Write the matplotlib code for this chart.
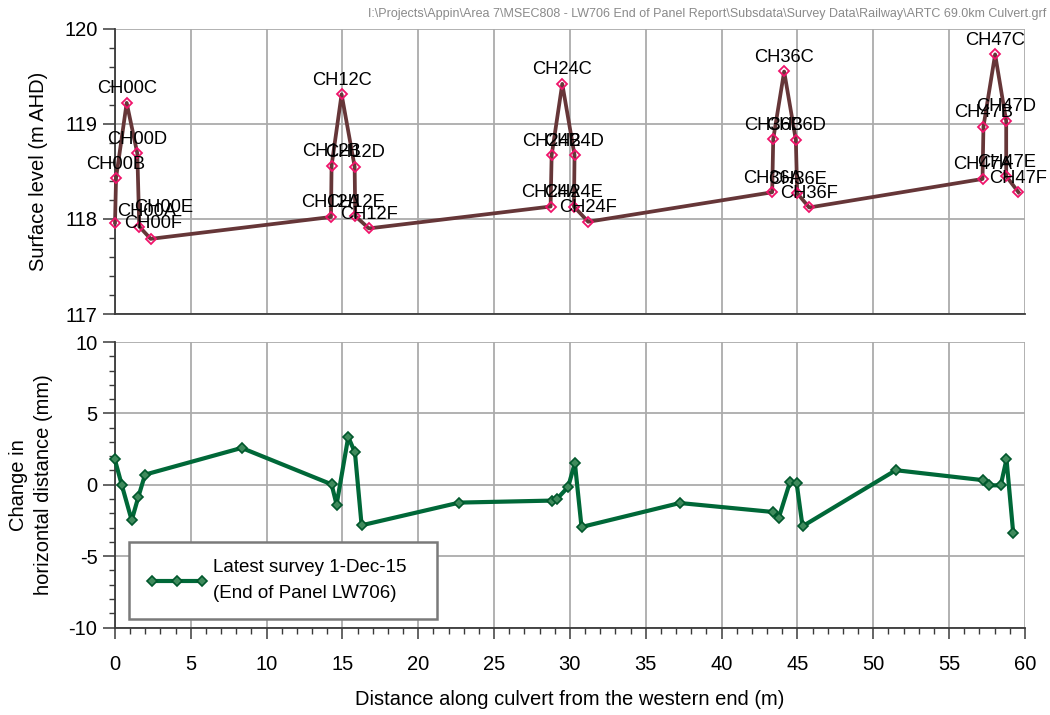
import matplotlib
matplotlib.use("Agg")
import matplotlib.pyplot as plt
from matplotlib.ticker import MultipleLocator

plt.rcParams['font.family'] = ['Liberation Sans', 'DejaVu Sans']
plt.rcParams['axes.unicode_minus'] = False

# Surveyed surface levels at the culvert marks
mark_names = ["CH00A", "CH00B", "CH00C", "CH00D", "CH00E", "CH00F",
              "CH12A", "CH12B", "CH12C", "CH12D", "CH12E", "CH12F",
              "CH24A", "CH24B", "CH24C", "CH24D", "CH24E", "CH24F",
              "CH36A", "CH36B", "CH36C", "CH36D", "CH36E", "CH36F",
              "CH47A", "CH47B", "CH47C", "CH47D", "CH47E", "CH47F"]
mark_dist = [0.01, 0.08, 0.78, 1.48, 1.61, 2.36,
             14.25, 14.29, 14.95, 15.81, 15.85, 16.75,
             28.73, 28.80, 29.50, 30.31, 30.27, 31.21,
             43.34, 43.41, 44.13, 44.90, 44.99, 45.78,
             57.21, 57.27, 58.04, 58.77, 58.77, 59.58]
mark_level = [117.96, 118.43, 119.22, 118.69, 117.92, 117.79,
              118.02, 118.56, 119.31, 118.55, 118.03, 117.90,
              118.13, 118.67, 119.42, 118.67, 118.13, 117.97,
              118.28, 118.84, 119.55, 118.83, 118.27, 118.12,
              118.42, 118.97, 119.73, 119.03, 118.45, 118.28]

# Change in horizontal distance between marks, latest survey
bay_dist = [0.0, 0.45, 1.11, 1.55, 1.99, 8.36, 14.29, 14.62, 15.39, 15.83,
            16.27, 22.71, 28.80, 29.17, 29.89, 30.33, 30.77, 37.25, 43.41,
            43.78, 44.51, 44.95, 45.34, 51.49, 57.25, 57.65, 58.41, 58.79,
            59.23]
bay_change = [1.77, 0.01, -2.49, -0.85, 0.71, 2.58, 0.03, -1.39, 3.35, 2.26,
              -2.84, -1.25, -1.11, -0.97, -0.15, 1.53, -2.96, -1.28, -1.91,
              -2.30, 0.18, 0.13, -2.91, 1.02, 0.32, -0.04, -0.04, 1.79,
              -3.35]

x_ticks = [0, 5, 10, 15, 20, 25, 30, 35, 40, 45, 50, 55, 60]
level_ticks = [117, 118, 119, 120]
change_ticks = [-10, -5, 0, 5, 10]
change_tick_labels = ["-10", "-5", "0", "5", "10"]
legend_label = "Latest survey 1-Dec-15\n(End of Panel LW706)"
file_path = (r"I:\Projects\Appin\Area 7\MSEC808 - LW706 End of Panel Report"
             r"\Subsdata\Survey Data\Railway\ARTC 69.0km Culvert.grf")

W, H = 1050, 715
fig = plt.figure(figsize=(W / 100, H / 100), dpi=100)

left = 114.85 / W
width = 910 / W
ax1 = fig.add_axes([left, (H - 314) / H, width, 285.3 / H])
ax2 = fig.add_axes([left, (H - 627.5) / H, width, 285.5 / H])

grid_col = "#ababab"
spine_col = "#3a3a3a"

for ax in (ax1, ax2):
    ax.set_xlim(0, 60)
    ax.xaxis.set_major_locator(MultipleLocator(5))
    ax.xaxis.set_minor_locator(MultipleLocator(1))
    ax.grid(True, which="major", color=grid_col, linewidth=1.3, zorder=0)
    ax.spines["top"].set_visible(False)
    ax.spines["right"].set_visible(False)
    for s in ("left", "bottom"):
        ax.spines[s].set_color(spine_col)
        ax.spines[s].set_linewidth(1.3)
        ax.spines[s].set_zorder(1)
    ax.tick_params(axis="y", which="major", direction="out", length=8.5,
                   width=1.1, color=spine_col, labelsize=14.5, pad=4)
    ax.tick_params(axis="y", which="minor", direction="out", length=4.3,
                   width=1.0, color=spine_col)
    ax.set_axisbelow(True)

# Upper panel: surface levels
ax1.set_ylim(117, 120)
ax1.set_yticks(level_ticks)
ax1.yaxis.set_minor_locator(MultipleLocator(0.2))
ax1.tick_params(axis="x", which="both", length=0, labelbottom=False)
ax1.plot(mark_dist, mark_level, color="#663638", linewidth=2.7,
         marker="D", markersize=5.5, markerfacecolor="none",
         markeredgecolor="#f0136a", markeredgewidth=1.3, clip_on=False,
         zorder=3)

label_shift = {"CH00A": (32, 11), "CH00E": (24, 19), "CH00F": (3, 15)}
for name, xv, yv in zip(mark_names, mark_dist, mark_level):
    dx, dy = label_shift.get(name, (0, 14))
    ax1.annotate(name, (xv, yv), xytext=(dx, dy), textcoords="offset pixels",
                 ha="center", va="center", fontsize=13.2, color="black",
                 annotation_clip=False, zorder=4)

ax1.set_ylabel("Surface level (m AHD)", fontsize=14.5)
ax1.yaxis.label.set_va("center")
ax1.yaxis.set_label_coords((38 - 114.85) / 910, 0.5)

# Lower panel: change in horizontal distance
ax2.set_ylim(-10, 10)
ax2.set_yticks(change_ticks)
ax2.set_yticklabels(change_tick_labels)
ax2.yaxis.set_minor_locator(MultipleLocator(1))
ax2.set_xticks(x_ticks)
ax2.set_xticklabels([str(v) for v in x_ticks])
ax2.tick_params(axis="x", which="major", direction="out", length=8,
                width=1.1, color=spine_col, labelsize=14.5, pad=12)
ax2.tick_params(axis="x", which="minor", direction="out", length=4.3,
                width=1.0, color=spine_col)
ax2.plot(bay_dist, bay_change, color="#006838", linewidth=3.0,
         marker="D", markersize=5.5, markerfacecolor="#3f8a5c",
         markeredgecolor="#00582c", markeredgewidth=1.2, clip_on=False,
         zorder=3, label=legend_label)

ax2.set_ylabel("Change in\nhorizontal distance (mm)", fontsize=14.5,
               linespacing=1.4)
ax2.yaxis.label.set_va("center")
ax2.yaxis.set_label_coords((31 - 114.85) / 910, 0.5)
ax2.set_xlabel("Distance along culvert from the western end (m)",
               fontsize=14.5, labelpad=11)

leg = ax2.legend(loc="lower left",
                 bbox_to_anchor=((129 - 114.85) / 910, (627.5 - 619) / 285.5,
                                 (437 - 129) / 910, (619 - 538) / 285.5),
                 mode="expand", borderaxespad=0, fontsize=13.5,
                 handlelength=3.3, handletextpad=0.3, numpoints=3,
                 fancybox=False, framealpha=1, borderpad=0.9,
                 labelspacing=0.2)
leg.get_frame().set_edgecolor("#7a7a7a")
leg.get_frame().set_linewidth(1.8)
for t in leg.get_texts():
    t.set_linespacing(1.7)

fig.text(1046 / W, 1 - 14 / H, file_path, ha="right", va="center",
         fontsize=9, color="#8a8a8a")

fig.savefig("out.png", dpi=100)
